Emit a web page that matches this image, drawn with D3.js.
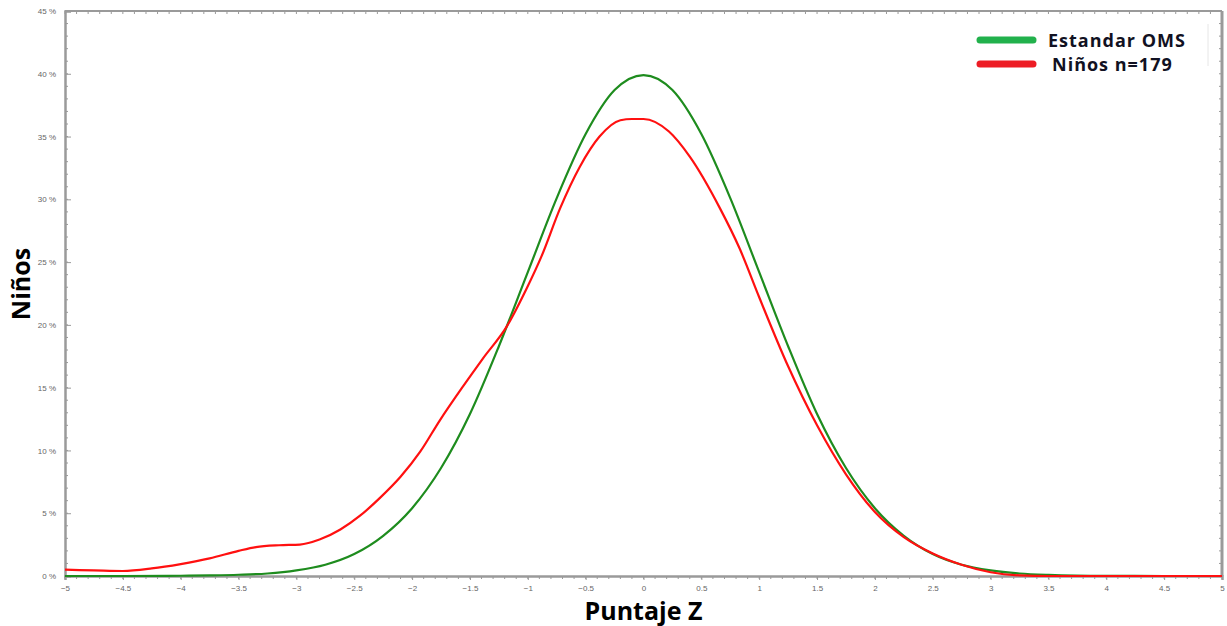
<!DOCTYPE html>
<html>
<head>
<meta charset="utf-8">
<script src="https://cdn.jsdelivr.net/npm/d3@7"></script>
<style>
  body { margin: 0; background: #fff; }
  svg { display: block; }
</style>
</head>
<body>
<div id="chart"></div>
<script>
// puntaje Z, porcentaje
var omsZ = [-5, -4.5, -4, -3.75, -3.5, -3.25, -3, -2.75, -2.5, -2.25, -2, -1.75, -1.5, -1.25, -1, -0.75, -0.5, -0.25, 0,
            0.25, 0.5, 0.75, 1, 1.25, 1.5, 1.75, 2, 2.25, 2.5, 2.75, 3, 3.25, 3.5, 4, 4.5, 5];
var omsV = [0, 0, 0.02, 0.05, 0.1, 0.2, 0.45, 0.9, 1.75, 3.2, 5.4, 8.6, 12.9, 18.3, 24.2, 30.1, 35.2, 38.7, 39.9,
            38.7, 35.2, 30.1, 24.2, 18.3, 12.9, 8.6, 5.4, 3.2, 1.75, 0.9, 0.45, 0.2, 0.09, 0.01, 0, 0];

var ninosZ = [-5, -4.75, -4.5, -4.25, -4, -3.75, -3.5, -3.35, -3.15, -2.97, -2.8, -2.62, -2.45, -2.28, -2.1, -1.93, -1.76, -1.56, -1.39, -1.18, -1.01, -0.88, -0.72,
              -0.55, -0.38, -0.2, -0.1, 0, 0.22, 0.4, 0.66, 0.83, 1, 1.25, 1.5, 1.75, 2, 2.25, 2.5, 2.75, 3, 3.25, 3.5, 4, 4.5, 5];
var ninosV = [0.5, 0.45, 0.4, 0.6, 0.95, 1.4, 2.0, 2.3, 2.45, 2.5, 2.9, 3.7, 4.8, 6.2, 7.9, 9.9, 12.4, 15.1, 17.3, 19.9, 22.9, 25.5, 29.3,
              32.6, 35.0, 36.3, 36.4, 36.4, 35.4, 33.4, 29.3, 26.1, 22.2, 16.7, 12.0, 8.1, 5.1, 3.1, 1.8, 0.9, 0.3, 0.05, 0, 0, 0, 0];

var xTicks = d3.range(-5, 5.01, 0.5);
var yTicks = d3.range(0, 46, 5);

var series = [
  { name: "Estandar OMS", z: omsZ, v: omsV, color: "#1e8c1e", legend: "#22b14c" },
  { name: "Niños n=179", z: ninosZ, v: ninosV, color: "#ff1010", legend: "#ed1c24" }
];

var width = 1227, height = 626;
var margin = { top: 11, right: 5, bottom: 50, left: 65 };

var svg = d3.select("#chart").append("svg").attr("width", width).attr("height", height);

var xScale = d3.scaleLinear().domain([-5, 5]).range([margin.left, width - margin.right]);
var yScale = d3.scaleLinear().domain([0, 45]).range([height - margin.bottom, margin.top]);

var x0 = xScale(-5), x1 = xScale(5), y0 = yScale(0), y1 = yScale(45);
var grey = "#9a9a9a";

// marco superior y derecho con marcas
svg.append("line").attr("x1", x0).attr("x2", x1).attr("y1", y1).attr("y2", y1)
  .attr("stroke", grey).attr("stroke-width", 2);
svg.append("line").attr("x1", x1).attr("x2", x1).attr("y1", y1).attr("y2", y0)
  .attr("stroke", grey).attr("stroke-width", 3);

var minorX = d3.range(-50, 51).map(d => d / 10);
var minorY = d3.range(0, 46);

svg.append("g").selectAll("line").data(minorX).enter().append("line")
  .attr("x1", d => xScale(d)).attr("x2", d => xScale(d))
  .attr("y1", y1).attr("y2", y1 + 3)
  .attr("stroke", grey).attr("stroke-width", 1);
svg.append("g").selectAll("line").data(minorY).enter().append("line")
  .attr("x1", x1).attr("x2", x1 - 3)
  .attr("y1", d => yScale(d)).attr("y2", d => yScale(d))
  .attr("stroke", grey).attr("stroke-width", 1);

// ejes
var axisx = d3.axisBottom(xScale).tickValues(xTicks).tickSize(4).tickFormat(d => d3.format("")(+d.toFixed(1)));
var axisy = d3.axisLeft(yScale).tickValues(yTicks).tickSize(-6).tickPadding(9).tickFormat(d => d + " %");

var gx = svg.append("g").attr("transform", "translate(0," + y0 + ")").call(axisx);
var gy = svg.append("g").attr("transform", "translate(" + x0 + ",0)").call(axisy);

[gx, gy].forEach(function(g) {
  g.select(".domain").attr("stroke", grey).attr("stroke-width", 2.5);
  g.selectAll(".tick line").attr("stroke", grey);
  g.selectAll(".tick text").attr("fill", "#666").attr("font-family", "Arial, 'Liberation Sans', sans-serif").attr("font-size", "8px");
});
gx.selectAll(".tick text").attr("dy", "1em");

svg.append("g").selectAll("line").data(minorX).enter().append("line")
  .attr("x1", d => xScale(d)).attr("x2", d => xScale(d))
  .attr("y1", y0).attr("y2", y0 + 3)
  .attr("stroke", grey).attr("stroke-width", 1);
svg.append("g").selectAll("line").data(minorY).enter().append("line")
  .attr("x1", x0).attr("x2", x0 + 3)
  .attr("y1", d => yScale(d)).attr("y2", d => yScale(d))
  .attr("stroke", grey).attr("stroke-width", 1);

// curvas
var curveFunc = d3.line()
  .curve(d3.curveMonotoneX)
  .x(d => xScale(d[0]))
  .y(d => yScale(d[1]));

series.forEach(function(s) {
  svg.append("path")
    .attr("d", curveFunc(s.z.map((z, i) => [z, s.v[i]])))
    .attr("stroke", s.color)
    .attr("stroke-width", 2.2)
    .attr("fill", "none");
});

// leyenda
svg.append("line").attr("x1", 1208).attr("x2", 1208).attr("y1", 24).attr("y2", 66)
  .attr("stroke", "#e6e6e6").attr("stroke-width", 1);

var legend = svg.append("g").selectAll("g").data(series).enter().append("g")
  .attr("transform", (d, i) => "translate(980," + (40 + i * 24) + ")");
legend.append("line").attr("x1", 0).attr("x2", 53).attr("y1", 0).attr("y2", 0)
  .attr("stroke", d => d.legend).attr("stroke-width", 7).attr("stroke-linecap", "round");
legend.append("text")
  .attr("x", (d, i) => 68 + i * 4).attr("y", 7)
  .attr("font-family", "'Open Sans', 'DejaVu Sans', sans-serif")
  .attr("font-weight", "bold").attr("font-size", "18px")
  .attr("letter-spacing", "1px")
  .attr("fill", "#111122")
  .text(d => d.name);

// titulos
svg.append("text")
  .attr("x", xScale(0)).attr("y", 620)
  .attr("text-anchor", "middle")
  .attr("font-family", "'Open Sans', 'DejaVu Sans', sans-serif")
  .attr("font-weight", "bold").attr("font-size", "25px")
  .text("Puntaje Z");

svg.append("text")
  .attr("transform", "translate(30," + 284 + ") rotate(-90)")
  .attr("text-anchor", "middle")
  .attr("font-family", "'Open Sans', 'DejaVu Sans', sans-serif")
  .attr("font-weight", "bold").attr("font-size", "25px")
  .text("Niños");
</script>
</body>
</html>
